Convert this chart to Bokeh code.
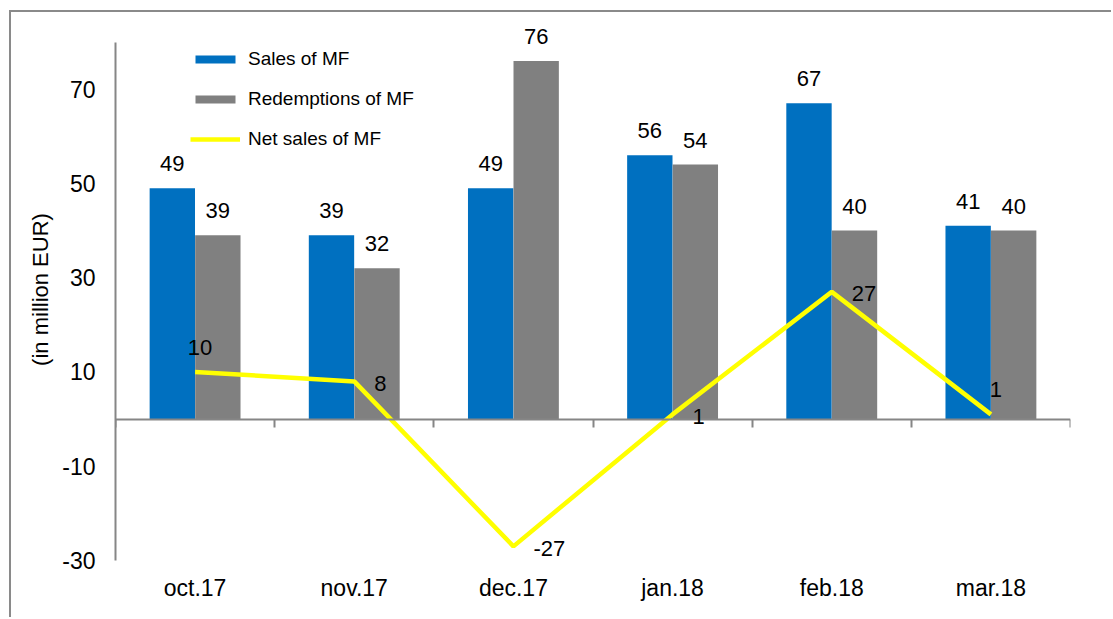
from bokeh.plotting import figure
from bokeh.models import (Range1d, FixedTicker, LinearAxis, Legend, LegendItem,
                          ColumnDataSource, LabelSet)
from bokeh.transform import dodge
from bokeh.core.properties import value
from bokeh.embed import file_html
from bokeh.resources import INLINE

# ---- data ----
months = ["oct.17", "nov.17", "dec.17", "jan.18", "feb.18", "mar.18"]
sales = [49, 39, 49, 56, 67, 41]
redemptions = [39, 32, 76, 54, 40, 40]
net_sales = [10, 8, -27, 1, 27, 1]
net_label_pos = ["above", "right", "right", "right", "right", "above"]
y_ticks = [-30, -10, 10, 30, 50, 70]

FONT = "Liberation Sans"
BLUE = "#0070C0"
GRAY = "#808080"
YELLOW = "#FFFF00"
AXIS = "#868686"

centers = [i + 0.5 for i in range(len(months))]
src = ColumnDataSource(dict(
    x=centers, sales=sales, red=redemptions, net=net_sales,
    sales_lbl=[str(v) for v in sales],
    red_lbl=[str(v) for v in redemptions],
))

p = figure(width=1102, height=607, x_range=Range1d(0, len(months)),
           y_range=Range1d(-30, 85), output_backend="svg",
           toolbar_location=None, min_border_left=104, min_border_right=43,
           min_border_top=6, min_border_bottom=59)
p.styles = {"border-left": "2px solid #8a8a8a", "border-top": "2px solid #8a8a8a",
            "margin-left": "9px", "margin-top": "10px"}
p.outline_line_color = None
p.grid.visible = False
p.background_fill_color = "white"
p.border_fill_color = "white"

off = 0.143
w = 0.285
r_sales = p.vbar(x=dodge("x", -off), top="sales", width=w, source=src,
                 fill_color=BLUE, line_color=None)
r_red = p.vbar(x=dodge("x", off), top="red", width=w, source=src,
               fill_color=GRAY, line_color=None)
r_net = p.line(x="x", y="net", source=src, line_color=YELLOW, line_width=4.5)

# bar labels
for col, lbl, dx in (("sales", "sales_lbl", -off), ("red", "red_lbl", off)):
    p.add_layout(LabelSet(x=dodge("x", dx), y=col, text=lbl, source=src,
                          text_font=value(FONT), text_font_size="22px",
                          text_color="black", text_align="center",
                          text_baseline="bottom", y_offset=17))

# net labels
right_idx = [i for i, s in enumerate(net_label_pos) if s == "right"]
above_idx = [i for i, s in enumerate(net_label_pos) if s == "above"]
src_r = ColumnDataSource(dict(x=[centers[i] for i in right_idx],
                              y=[net_sales[i] for i in right_idx],
                              t=[str(net_sales[i]) for i in right_idx]))
src_a = ColumnDataSource(dict(x=[centers[i] for i in above_idx],
                              y=[net_sales[i] for i in above_idx],
                              t=[str(net_sales[i]) for i in above_idx]))
p.add_layout(LabelSet(x="x", y="y", text="t", source=src_r, text_font=value(FONT),
                      text_font_size="22px", text_color="black", text_align="left",
                      text_baseline="middle", x_offset=20, y_offset=-2))
p.add_layout(LabelSet(x="x", y="y", text="t", source=src_a, text_font=value(FONT),
                      text_font_size="22px", text_color="black", text_align="center",
                      text_baseline="bottom", x_offset=5, y_offset=17))

# category axis (bottom)
xa = p.xaxis[0]
xa.ticker = FixedTicker(ticks=centers)
xa.major_label_overrides = {c: m for c, m in zip(centers, months)}
xa.axis_line_color = None
xa.major_tick_line_color = None
xa.minor_tick_line_color = None
xa.major_tick_out = 0
xa.major_tick_in = 0
xa.major_label_standoff = 14
xa.major_label_text_font = FONT
xa.major_label_text_font_size = "23px"
xa.major_label_text_color = "black"

# zero line axis with category boundary ticks
zero_axis = LinearAxis(fixed_location=0,
                       ticker=FixedTicker(ticks=list(range(len(months) + 1))),
                       axis_line_color=AXIS, axis_line_width=2,
                       major_tick_line_color=AXIS, major_tick_line_width=2,
                       major_tick_out=8, major_tick_in=0,
                       minor_tick_line_color=None,
                       major_label_text_alpha=0, major_label_text_font_size="1px",
                       major_label_standoff=0)
p.add_layout(zero_axis, "below")

# y axis
ya = p.yaxis[0]
ya.ticker = FixedTicker(ticks=y_ticks)
ya.bounds = (-30, 80)
ya.major_label_overrides = {t: str(t) for t in y_ticks}
ya.axis_line_color = AXIS
ya.axis_line_width = 2
ya.major_tick_line_color = None
ya.minor_tick_line_color = None
ya.major_tick_out = 0
ya.major_tick_in = 0
ya.major_label_standoff = 20
ya.major_label_text_font = FONT
ya.major_label_text_font_size = "23px"
ya.major_label_text_color = "black"
ya.axis_label = "(in million EUR)"
ya.axis_label_text_font = FONT
ya.axis_label_text_font_size = "22px"
ya.axis_label_text_font_style = "normal"
ya.axis_label_text_color = "black"
ya.axis_label_standoff = 6

legend = Legend(items=[
    LegendItem(label="Sales of MF", renderers=[r_sales]),
    LegendItem(label="Redemptions of MF", renderers=[r_red]),
    LegendItem(label="Net sales of MF", renderers=[r_net]),
], location=(75, 410), orientation="vertical")
legend.glyph_width = 50
legend.glyph_height = 10
legend.label_height = 20
legend.spacing = 18
legend.padding = 0
legend.margin = 0
legend.label_standoff = 8
legend.label_text_font = FONT
legend.label_text_font_size = "19px"
legend.label_text_color = "black"
legend.border_line_color = None
legend.background_fill_alpha = 0
p.add_layout(legend)

open("out.html", "w").write(file_html(p, INLINE))
